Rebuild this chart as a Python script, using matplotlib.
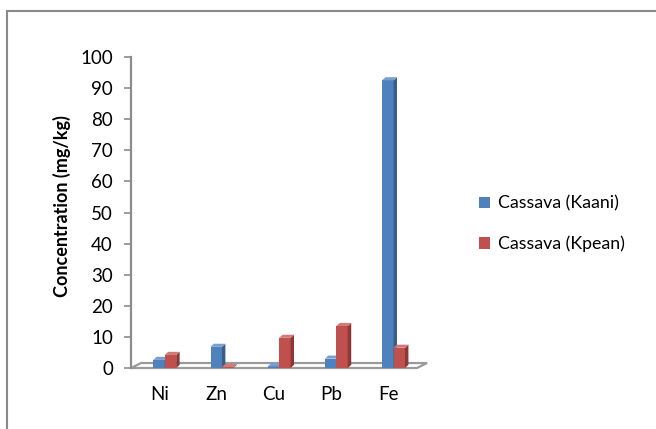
import matplotlib
matplotlib.use('Agg')
from matplotlib import pyplot as plt
from matplotlib.patches import Polygon, Patch
from matplotlib.lines import Line2D

metals = ['Ni', 'Zn', 'Cu', 'Pb', 'Fe']
kaani = [2.6, 6.8, 0.5, 3.0, 92.5]
kpean = [4.2, 0.3, 9.7, 13.5, 6.5]
series = ['Cassava (Kaani)', 'Cassava (Kpean)']
yticks = list(range(0, 101, 10))

plt.rcParams['font.family'] = ['Lato', 'DejaVu Sans']

front = ['#4F81BD', '#C0504D']
side = ['#385D8A', '#8C3836']
top = ['#7A9FCF', '#D27A78']

fig = plt.figure(figsize=(6.56, 4.29), dpi=100)
ax = fig.add_axes([131 / 656, 1 - 368 / 429, 286 / 656, 311 / 429])

w = 0.2
shift = 0.09
dx, dy = 0.06, 1.0      # bar depth
fdx, fdy = 0.175, 1.6   # floor depth

# floor
ax.add_patch(Polygon([(-0.5, 0), (4.5, 0), (4.5 + fdx, fdy), (-0.5 + fdx, fdy)],
                     closed=True, facecolor='white', edgecolor='#9a9a9a',
                     lw=1.6, zorder=1, clip_on=False))

for s, vals in enumerate([kaani, kpean]):
    for i, v in enumerate(vals):
        x0 = i + shift - w + s * w
        ax.bar(x0, v, width=w, align='edge', color=front[s], zorder=2 + s)
        ax.add_patch(Polygon([(x0 + w, 0), (x0 + w + dx, dy), (x0 + w + dx, v + dy), (x0 + w, v)],
                             closed=True, facecolor=side[s], edgecolor='none',
                             zorder=2 + s, clip_on=False))
        ax.add_patch(Polygon([(x0, v), (x0 + dx, v + dy), (x0 + w + dx, v + dy), (x0 + w, v)],
                             closed=True, facecolor=top[s], edgecolor='none',
                             zorder=2 + s, clip_on=False))

ax.set_xlim(-0.5, 4.5)
ax.set_ylim(0, 100)
ax.set_yticks(yticks)
ax.set_xticks(range(len(metals)))
ax.set_xticklabels(metals)
for sp in ['top', 'right', 'bottom']:
    ax.spines[sp].set_visible(False)
ax.spines['left'].set_color('#8c8c8c')
ax.spines['left'].set_linewidth(1.6)
ax.tick_params(axis='y', length=5, width=1.2, color='#8c8c8c', pad=8, labelsize=13.5)
ax.tick_params(axis='x', length=0, pad=13, labelsize=13.5)

fig.text(62 / 656, 1 - 206 / 429, 'Concentration (mg/kg)', rotation=90,
         ha='center', va='center', fontsize=13, fontweight='bold')

handles = [Patch(facecolor=front[0]), Patch(facecolor=front[1])]
fig.legend(handles, series, loc='center left', bbox_to_anchor=(463 / 656, 1 - 224 / 429),
           frameon=False, fontsize=12.8, handlelength=0.6, handleheight=0.6,
           handletextpad=0.45, labelspacing=1.35)

# outer chart border (left and top only visible)
fig.add_artist(Line2D([6.5 / 656, 6.5 / 656], [0, 1 - 10.5 / 429], color='#8a8a8a', lw=1.5))
fig.add_artist(Line2D([6.5 / 656, 1], [1 - 10.5 / 429, 1 - 10.5 / 429], color='#8a8a8a', lw=1.5))

fig.savefig('out.png', dpi=100)
